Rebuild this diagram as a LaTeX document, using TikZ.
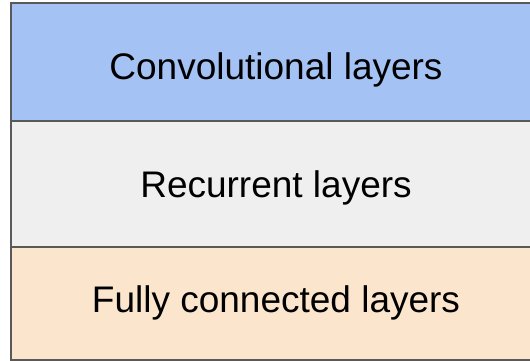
\documentclass[tikz,border=0pt]{standalone}
\usepackage{fontspec}
\setmainfont{Liberation Sans}
\definecolor{convblue}{HTML}{A4C2F4}
\definecolor{recgray}{HTML}{EFEFEF}
\definecolor{fcpeach}{HTML}{FCE5CD}
\definecolor{edge}{HTML}{595959}
\tikzset{
  band/.style={draw=edge, line width=2pt},
  label/.style={font=\fontsize{37}{44}\selectfont, text=black, anchor=base, inner sep=0pt}
}
\begin{document}
\begin{tikzpicture}[x=1pt, y=-1pt]
  \useasboundingbox (0,0) rectangle (530,361);
  \clip (0,0) rectangle (530,361);
  % stacked layer bands, open to the right
  \filldraw[band, fill=convblue] (11,3) rectangle (545,121);
  \filldraw[band, fill=recgray]  (11,121) rectangle (545,247);
  \filldraw[band, fill=fcpeach]  (11,247) rectangle (545,360);
  % band captions
  \node[label] (conv) at (276,80)  {Convolutional layers};
  \node[label] (rec)  at (276,197) {Recurrent layers};
  \node[label] (fc)   at (276,312) {Fully connected layers};
\end{tikzpicture}
\end{document}
